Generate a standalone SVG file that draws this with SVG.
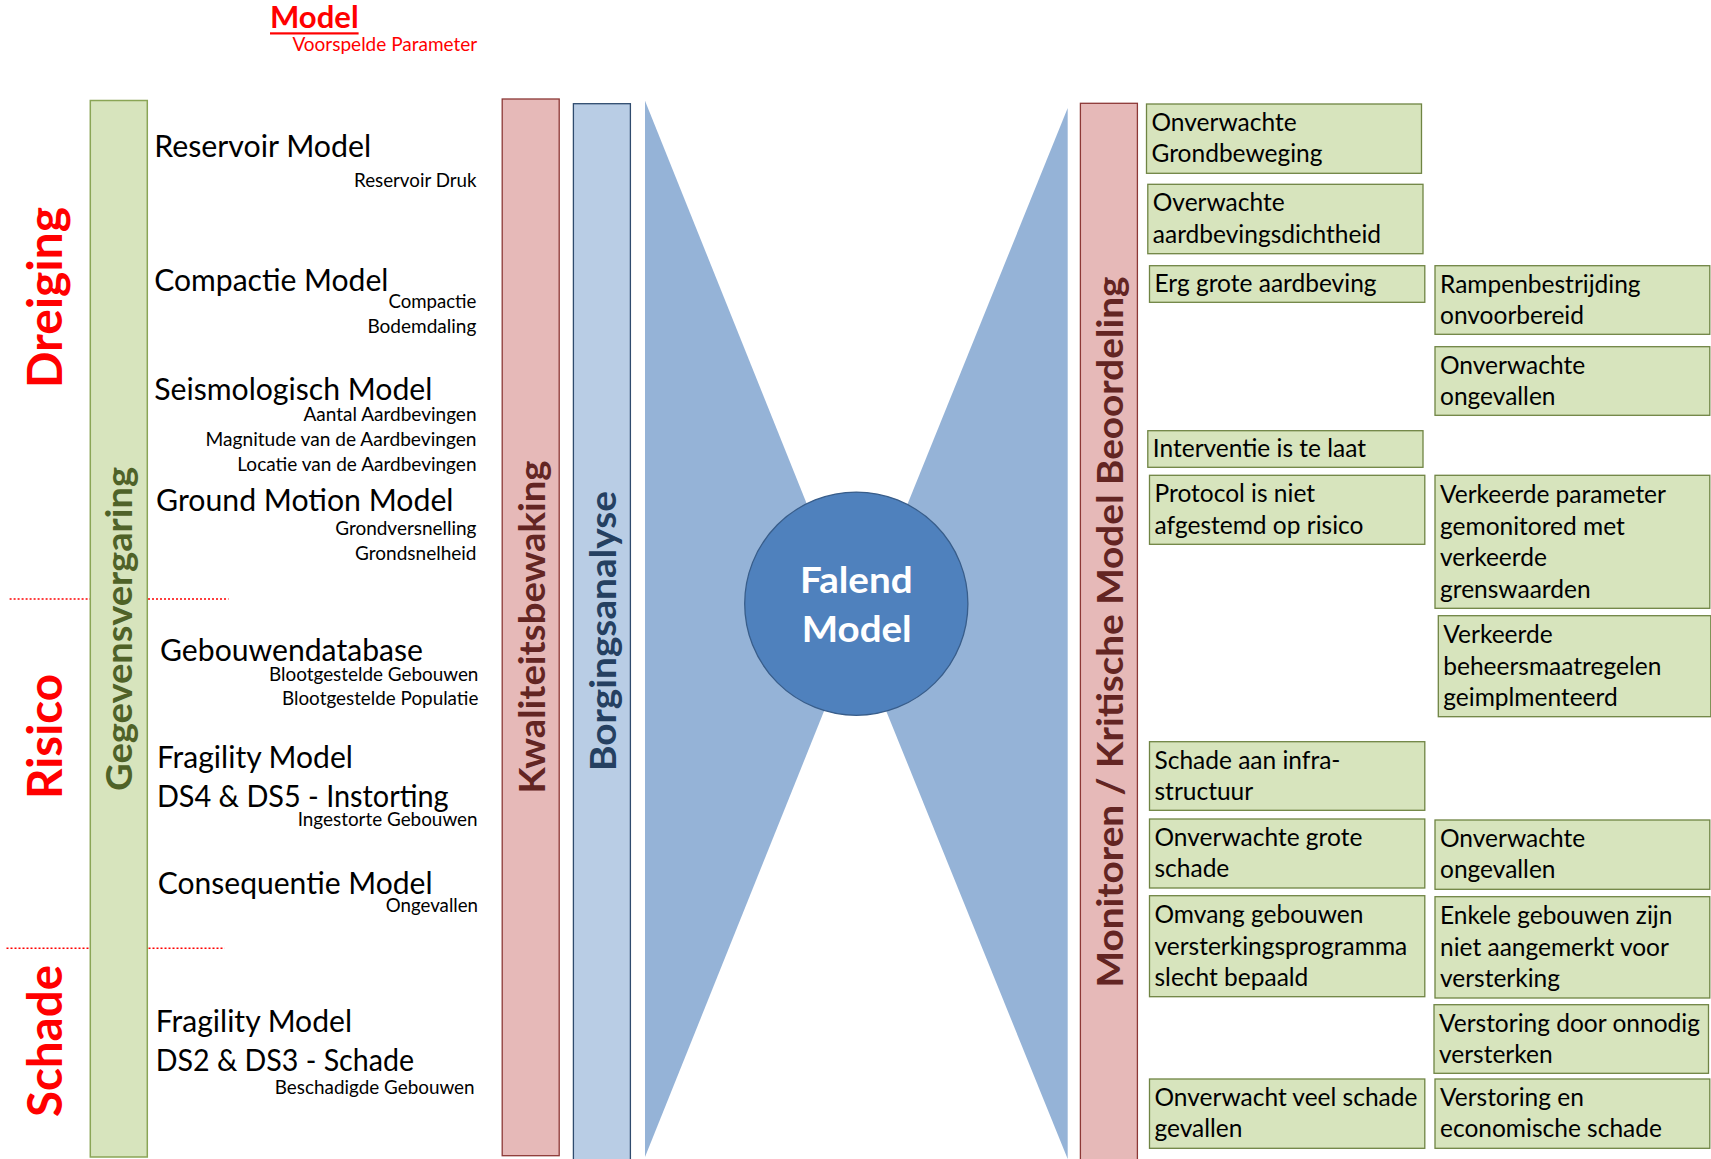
<svg xmlns="http://www.w3.org/2000/svg" width="1711" height="1159" viewBox="0 0 1711 1159">
<style>
text{font-family:Lato,"Open Sans","Liberation Sans",sans-serif;}
.big{font-size:30.5px;fill:#000;}
.sub{font-size:19.5px;fill:#000;}
.box{fill:#d7e4bd;stroke:#6f8443;stroke-width:1.3;}
.bt{font-size:24.5px;fill:#000;}
.sect{font-size:48px;font-weight:bold;fill:#ff0000;text-anchor:middle;}
.vt{font-size:36px;font-weight:bold;text-anchor:middle;}
.dot{stroke:#ff0000;stroke-width:1.5;stroke-dasharray:2 2;fill:none;}
</style>
<rect width="1711" height="1159" fill="#fff"/>

<g id="legend">
<text x="270" y="28.3" font-size="30" font-weight="bold" fill="#ff0000" textLength="88.6" lengthAdjust="spacingAndGlyphs">Model</text>
<rect x="270" y="32.3" width="88.6" height="2.2" fill="#ff0000"/>
<text x="292.4" y="50.7" font-size="19" fill="#ff0000" textLength="184.8" lengthAdjust="spacingAndGlyphs">Voorspelde Parameter</text>
</g>

<g id="sections">
<text class="sect" transform="translate(62,297.5) rotate(-90)" textLength="181" lengthAdjust="spacingAndGlyphs">Dreiging</text>
<text class="sect" transform="translate(62,736.5) rotate(-90)" textLength="125" lengthAdjust="spacingAndGlyphs">Risico</text>
<text class="sect" transform="translate(62,1041) rotate(-90)" textLength="152" lengthAdjust="spacingAndGlyphs">Schade</text>
<line class="dot" x1="9.6" y1="599" x2="90.3" y2="599"/>
<line class="dot" x1="148" y1="599" x2="228.5" y2="599"/>
<line class="dot" x1="6.5" y1="948.3" x2="90.3" y2="948.3"/>
<line class="dot" x1="148.5" y1="948.3" x2="224.6" y2="948.3"/>
</g>

<g id="gegevensvergaring">
<rect x="90.3" y="100.5" width="57" height="1056.5" fill="#d7e4bd" stroke="#8aa556" stroke-width="1.5"/>
<text class="vt" fill="#4f6228" transform="translate(132,629) rotate(-90)" textLength="324" lengthAdjust="spacingAndGlyphs">Gegevensvergaring</text>
</g>

<g id="models">
<text class="big" x="154.2" y="157.3" textLength="217" lengthAdjust="spacingAndGlyphs">Reservoir Model</text>
<text class="sub" x="354" y="186.7" textLength="122.5" lengthAdjust="spacingAndGlyphs">Reservoir Druk</text>
<text class="big" x="154.2" y="290.7" textLength="234.2" lengthAdjust="spacingAndGlyphs">Compactie Model</text>
<text class="sub" x="388.4" y="308.3" textLength="88" lengthAdjust="spacingAndGlyphs">Compactie</text>
<text class="sub" x="367.4" y="333.3" textLength="109" lengthAdjust="spacingAndGlyphs">Bodemdaling</text>
<text class="big" x="154.2" y="400" textLength="278.2" lengthAdjust="spacingAndGlyphs">Seismologisch Model</text>
<text class="sub" x="303.5" y="420.7" textLength="173" lengthAdjust="spacingAndGlyphs">Aantal Aardbevingen</text>
<text class="sub" x="205.5" y="445.7" textLength="271" lengthAdjust="spacingAndGlyphs">Magnitude van de Aardbevingen</text>
<text class="sub" x="237.3" y="470.7" textLength="239.2" lengthAdjust="spacingAndGlyphs">Locatie van de Aardbevingen</text>
<text class="big" x="156.1" y="511" textLength="297.4" lengthAdjust="spacingAndGlyphs">Ground Motion Model</text>
<text class="sub" x="335.2" y="535" textLength="141.3" lengthAdjust="spacingAndGlyphs">Grondversnelling</text>
<text class="sub" x="355.1" y="560" textLength="121.4" lengthAdjust="spacingAndGlyphs">Grondsnelheid</text>
<text class="big" x="160" y="661" textLength="263" lengthAdjust="spacingAndGlyphs">Gebouwendatabase</text>
<text class="sub" x="269" y="681" textLength="209.4" lengthAdjust="spacingAndGlyphs">Blootgestelde Gebouwen</text>
<text class="sub" x="282" y="705" textLength="196.4" lengthAdjust="spacingAndGlyphs">Blootgestelde Populatie</text>
<text class="big" x="156.9" y="767.7" textLength="196" lengthAdjust="spacingAndGlyphs">Fragility Model</text>
<text class="big" x="156.9" y="807.3" textLength="291.6" lengthAdjust="spacingAndGlyphs">DS4 &amp; DS5 - Instorting</text>
<text class="sub" x="297.7" y="825.7" textLength="179.9" lengthAdjust="spacingAndGlyphs">Ingestorte Gebouwen</text>
<text class="big" x="157.7" y="894" textLength="274.8" lengthAdjust="spacingAndGlyphs">Consequentie Model</text>
<text class="sub" x="385.8" y="911.7" textLength="92.2" lengthAdjust="spacingAndGlyphs">Ongevallen</text>
<text class="big" x="155.8" y="1031.7" textLength="196.2" lengthAdjust="spacingAndGlyphs">Fragility Model</text>
<text class="big" x="155.8" y="1071" textLength="258.2" lengthAdjust="spacingAndGlyphs">DS2 &amp; DS3 - Schade</text>
<text class="sub" x="274.8" y="1094.3" textLength="199.8" lengthAdjust="spacingAndGlyphs">Beschadigde Gebouwen</text>
</g>

<g id="kwaliteitsbewaking">
<rect x="502.2" y="99" width="57" height="1056.7" fill="#e6b9b8" stroke="#8c3836" stroke-width="1.3"/>
<text class="vt" fill="#632523" transform="translate(545,627) rotate(-90)" textLength="333" lengthAdjust="spacingAndGlyphs">Kwaliteitsbewaking</text>
</g>

<g id="borgingsanalyse">
<rect x="573.4" y="103.7" width="57" height="1058" fill="#b9cde5" stroke="#2f4b6e" stroke-width="1.3"/>
<text class="vt" fill="#254061" transform="translate(616,631) rotate(-90)" textLength="280" lengthAdjust="spacingAndGlyphs">Borgingsanalyse</text>
</g>

<g id="connectors">
<polygon points="645,100.7 857,629 645,1157" fill="#95b3d7"/>
<polygon points="1067.7,108 855,634 1067.7,1159" fill="#95b3d7"/>
</g>

<g id="falend-model">
<circle cx="856.3" cy="603.7" r="111.6" fill="#4f81bd" stroke="#385d8a" stroke-width="1.3"/>
<text x="856.3" y="592.7" font-size="36" font-weight="bold" fill="#fff" text-anchor="middle" textLength="112.7" lengthAdjust="spacingAndGlyphs">Falend</text>
<text x="856.7" y="642.3" font-size="36" font-weight="bold" fill="#fff" text-anchor="middle" textLength="110" lengthAdjust="spacingAndGlyphs">Model</text>
</g>

<g id="monitoren">
<rect x="1080.4" y="103.3" width="57" height="1057" fill="#e6b9b8" stroke="#8c3836" stroke-width="1.3"/>
<text class="vt" fill="#632523" transform="translate(1122.5,632) rotate(-90)" textLength="711" lengthAdjust="spacingAndGlyphs">Monitoren / Kritische Model Beoordeling</text>
</g>

<g id="b1"><rect class="box" x="1146.5" y="104" width="275" height="69.3"/>
<text class="bt" x="1151.5" y="131">Onverwachte</text><text class="bt" x="1151.5" y="162.3">Grondbeweging</text></g>
<g id="b2"><rect class="box" x="1147.8" y="184.3" width="275.2" height="69.4"/>
<text class="bt" x="1152.8" y="211.3">Overwachte</text><text class="bt" x="1152.8" y="242.6">aardbevingsdichtheid</text></g>
<g id="b3"><rect class="box" x="1149.5" y="265.7" width="275.3" height="36.6"/>
<text class="bt" x="1154.5" y="292">Erg grote aardbeving</text></g>
<g id="b4"><rect class="box" x="1147.8" y="430.7" width="275.2" height="36.6"/>
<text class="bt" x="1152.8" y="457">Interventie is te laat</text></g>
<g id="b5"><rect class="box" x="1149.5" y="475.3" width="275.3" height="69"/>
<text class="bt" x="1154.5" y="502.3">Protocol is niet</text><text class="bt" x="1154.5" y="533.6">afgestemd op risico</text></g>
<g id="b6"><rect class="box" x="1149.5" y="741.7" width="275.3" height="68.6"/>
<text class="bt" x="1154.5" y="768.7">Schade aan infra-</text><text class="bt" x="1154.5" y="800">structuur</text></g>
<g id="b7"><rect class="box" x="1149.5" y="819" width="275.3" height="69"/>
<text class="bt" x="1154.5" y="846">Onverwachte grote</text><text class="bt" x="1154.5" y="877.3">schade</text></g>
<g id="b8"><rect class="box" x="1149.5" y="895.7" width="275.3" height="101"/>
<text class="bt" x="1154.5" y="923.3">Omvang gebouwen</text><text class="bt" x="1154.5" y="954.5">versterkingsprogramma</text><text class="bt" x="1154.5" y="985.7">slecht bepaald</text></g>
<g id="b9"><rect class="box" x="1149.5" y="1079" width="275.3" height="69.3"/>
<text class="bt" x="1154.5" y="1106">Onverwacht veel schade</text><text class="bt" x="1154.5" y="1137.3">gevallen</text></g>

<g id="c1"><rect class="box" x="1435" y="265.7" width="274.8" height="68.6"/>
<text class="bt" x="1440" y="292.7">Rampenbestrijding</text><text class="bt" x="1440" y="324">onvoorbereid</text></g>
<g id="c2"><rect class="box" x="1435" y="346.7" width="274.8" height="68.6"/>
<text class="bt" x="1440" y="373.7">Onverwachte</text><text class="bt" x="1440" y="405">ongevallen</text></g>
<g id="c3"><rect class="box" x="1435" y="475.3" width="274.8" height="133"/>
<text class="bt" x="1440" y="503.3">Verkeerde parameter</text><text class="bt" x="1440" y="534.8">gemonitored met</text><text class="bt" x="1440" y="566.3">verkeerde</text><text class="bt" x="1440" y="597.8">grenswaarden</text></g>
<g id="c4"><rect class="box" x="1438.3" y="615.7" width="272.5" height="101"/>
<text class="bt" x="1443.3" y="643.3">Verkeerde</text><text class="bt" x="1443.3" y="674.6">beheersmaatregelen</text><text class="bt" x="1443.3" y="705.9">geimplmenteerd</text></g>
<g id="c5"><rect class="box" x="1435" y="820" width="274.8" height="69.3"/>
<text class="bt" x="1440" y="847">Onverwachte</text><text class="bt" x="1440" y="878.3">ongevallen</text></g>
<g id="c6"><rect class="box" x="1435" y="896.7" width="274.8" height="101.3"/>
<text class="bt" x="1440" y="924.3">Enkele gebouwen zijn</text><text class="bt" x="1440" y="955.5">niet aangemerkt voor</text><text class="bt" x="1440" y="986.7">versterking</text></g>
<g id="c7"><rect class="box" x="1434" y="1004.7" width="274.5" height="68.6"/>
<text class="bt" x="1439" y="1031.7">Verstoring door onnodig</text><text class="bt" x="1439" y="1063">versterken</text></g>
<g id="c8"><rect class="box" x="1435" y="1079" width="274.8" height="69.3"/>
<text class="bt" x="1440" y="1106">Verstoring en</text><text class="bt" x="1440" y="1137.3">economische schade</text></g>
</svg>
